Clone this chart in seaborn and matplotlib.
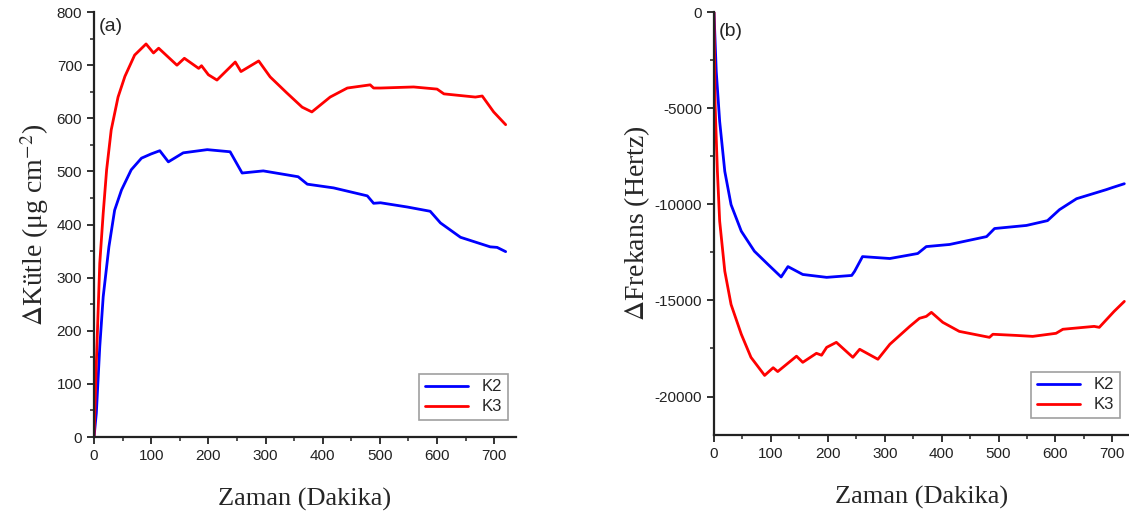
import matplotlib
matplotlib.use("Agg")
import matplotlib.pyplot as plt
from matplotlib.ticker import MultipleLocator
import seaborn as sns
import pandas as pd

# (a) mass change, ug cm^-2
k2_mass_t = [0, 4, 10, 16, 26, 36, 48, 65, 83, 100, 115, 130, 156, 198, 238, 259, 296, 357,
             373, 419, 478, 489, 501, 548, 588, 606, 641, 693, 705, 720]
k2_mass = [0, 45, 170, 264, 358, 427, 465, 503, 525, 533, 539, 518, 535, 541, 537, 497, 501,
           490, 476, 469, 454, 440, 441, 433, 425, 403, 376, 358, 357, 349]

k3_mass_t = [0, 4, 7, 10, 16, 22, 30, 42, 54, 71, 91, 104, 113, 145, 158, 183, 188, 200, 215,
             247, 257, 288, 308, 337, 364, 381, 413, 443, 483, 489, 501, 559, 600, 612, 667,
             679, 699, 720]
k3_mass = [0, 139, 233, 327, 421, 503, 578, 640, 679, 719, 740, 723, 732, 700, 713, 694, 699,
           682, 672, 706, 688, 708, 678, 648, 621, 612, 640, 657, 663, 657, 657, 659, 655,
           646, 640, 642, 612, 588]

# (b) frequency change, Hz
k2_freq_t = [0, 4, 10, 19, 30, 48, 71, 95, 118, 130, 156, 198, 242, 247, 261, 309, 358, 373,
             414, 479, 493, 549, 586, 607, 637, 689, 700, 721]
k2_freq = [0, -3100, -5690, -8290, -10020, -11400, -12440, -13130, -13780, -13240, -13650,
           -13800, -13700, -13490, -12720, -12820, -12560, -12200, -12090, -11680, -11260,
           -11100, -10850, -10280, -9710, -9240, -9130, -8930]

k3_freq_t = [0, 2, 6, 10, 19, 30, 48, 65, 89, 104, 112, 145, 156, 180, 189, 198, 215, 244,
             256, 288, 309, 344, 361, 373, 382, 402, 431, 484, 490, 531, 560, 601, 613, 668,
             677, 703, 721]
k3_freq = [0, -4830, -8290, -10880, -13480, -15210, -16760, -17960, -18900, -18500, -18700,
           -17900, -18220, -17750, -17850, -17440, -17180, -17960, -17540, -18060, -17280,
           -16350, -15930, -15830, -15620, -16140, -16610, -16920, -16760, -16820, -16870,
           -16710, -16500, -16350, -16400, -15570, -15050]

series_names = ["K2", "K3"]
palette = {"K2": "#0000ff", "K3": "#ff0000"}

mass_df = pd.concat([
    pd.DataFrame({"t": k2_mass_t, "v": k2_mass, "s": "K2"}),
    pd.DataFrame({"t": k3_mass_t, "v": k3_mass, "s": "K3"}),
])
freq_df = pd.concat([
    pd.DataFrame({"t": k2_freq_t, "v": k2_freq, "s": "K2"}),
    pd.DataFrame({"t": k3_freq_t, "v": k3_freq, "s": "K3"}),
])

sns.set_style("ticks")
plt.rcParams["axes.unicode_minus"] = False
plt.rcParams["mathtext.fontset"] = "stix"
tick_font = ["Liberation Sans Narrow", "Liberation Sans", "DejaVu Sans"]
label_font = ["Liberation Serif", "DejaVu Serif"]

fig = plt.figure(figsize=(11.29, 5.25), dpi=100)
ax1 = fig.add_axes([0.0833, 0.1676, 0.3737, 0.8094])
ax2 = fig.add_axes([0.6324, 0.1714, 0.3670, 0.8057])

def style_axis(ax):
    for side in ["top", "right"]:
        ax.spines[side].set_visible(False)
    for side in ["left", "bottom"]:
        ax.spines[side].set_linewidth(1.6)
        ax.spines[side].set_color("#222222")
    ax.tick_params(which="major", direction="out", length=5, width=1.3, labelsize=11,
                   colors="#222222")
    ax.tick_params(which="minor", direction="out", length=3, width=1.1, colors="#222222")
    for lab in ax.get_xticklabels() + ax.get_yticklabels():
        lab.set_family(tick_font)
    ax.xaxis.set_major_locator(MultipleLocator(100))
    ax.xaxis.set_minor_locator(MultipleLocator(50))
    ax.set_xlabel("Zaman (Dakika)", family=label_font, fontsize=19, labelpad=18)
    leg = ax.legend(loc="lower right", fontsize=12, frameon=True, fancybox=False,
                    handlelength=2.6, borderpad=0.35, labelspacing=0.3,
                    bbox_to_anchor=(1.0, 0.02))
    leg.get_frame().set_edgecolor("#888888")
    leg.get_frame().set_linewidth(1.2)
    for txt in leg.get_texts():
        txt.set_family(tick_font)

sns.lineplot(data=mass_df, x="t", y="v", hue="s", hue_order=series_names, palette=palette,
             linewidth=2, ax=ax1)
ax1.set_xlim(0, 738)
ax1.set_ylim(0, 800)
ax1.yaxis.set_major_locator(MultipleLocator(100))
ax1.yaxis.set_minor_locator(MultipleLocator(50))
ax1.set_ylabel(r"$\Delta$Kütle (μg cm$^{-2}$)", family=label_font, fontsize=20, labelpad=4)
style_axis(ax1)
ax1.text(0.012, 0.985, "(a)", transform=ax1.transAxes, fontsize=14, va="top",
         family=tick_font)

sns.lineplot(data=freq_df, x="t", y="v", hue="s", hue_order=series_names, palette=palette,
             linewidth=2, ax=ax2)
ax2.set_xlim(0, 728)
ax2.set_ylim(-22000, 0)
ax2.yaxis.set_major_locator(MultipleLocator(5000))
ax2.yaxis.set_minor_locator(MultipleLocator(2500))
ax2.set_ylabel(r"$\Delta$Frekans (Hertz)", family=label_font, fontsize=20, labelpad=2)
style_axis(ax2)
ax2.text(0.012, 0.975, "(b)", transform=ax2.transAxes, fontsize=14, va="top",
         family=tick_font)

fig.savefig("out.png", dpi=100)
